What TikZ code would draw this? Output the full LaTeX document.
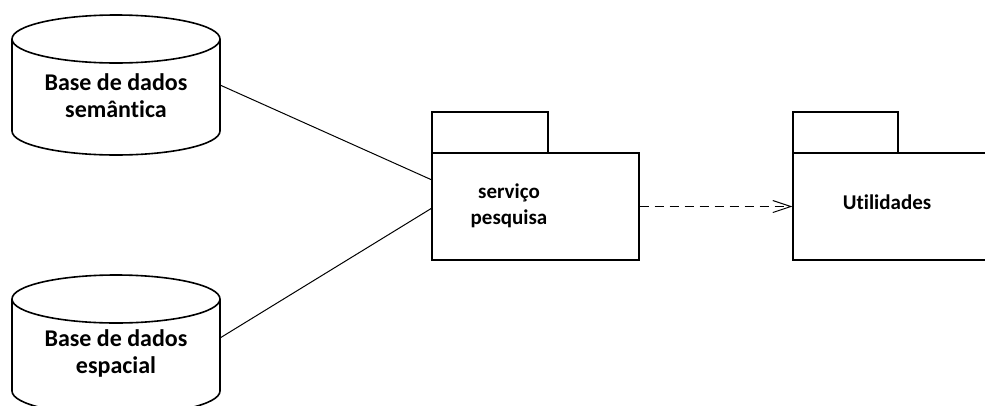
\documentclass[tikz,border=0pt]{standalone}
\usepackage{fontspec}
\setmainfont[Ligatures={NoCommon}]{Carlito}
\usetikzlibrary{arrows.meta}
\begin{document}
\begin{tikzpicture}[x=1pt,y=-1pt,
  cyl/.style={line width=1.6pt},
  pkg/.style={draw,line width=1.2pt,rectangle,inner sep=0pt},
  conn/.style={line width=1pt},
  lbl/.style={font=\bfseries\fontsize{24}{27}\selectfont,align=center},
  plbl/.style={font=\bfseries\fontsize{21}{26}\selectfont,align=center}]
\useasboundingbox (0,0) rectangle (985,405);
\clip (0,0) rectangle (985,405);
% cylinder 1
\draw[cyl] (116,39) ellipse [x radius=104, y radius=24];
\draw[cyl] (12,39) -- (12,131) arc[start angle=180, end angle=0, x radius=104, y radius=24] -- (220,39);
\node[lbl] (db1) at (116,96) {Base de dados\\semântica};
% cylinder 2
\draw[cyl] (116,299) ellipse [x radius=104, y radius=24];
\draw[cyl] (12,299) -- (12,391) arc[start angle=180, end angle=0, x radius=104, y radius=24] -- (220,299);
\node[lbl] (db2) at (116,353) {Base de dados\\espacial};
\coordinate (db1e) at (220,85);
\coordinate (db2e) at (220,338);
% package 1
\draw[line width=1.2pt] (432,153) -- (432,112) -- (548,112) -- (548,153);
\node[pkg, minimum width=207pt, minimum height=107pt] (p1) at (535.5,206.5) {};
\node[plbl] (t1) at (509,206) {serviço\\pesquisa};
% package 2
\draw[line width=1.2pt] (793,153) -- (793,112) -- (898,112) -- (898,153);
\node[pkg, minimum width=300pt, minimum height=107pt] (p2) at (943,206.5) {};
\node[plbl] (t2) at (887,202) {Utilidades};
\coordinate (p1a) at (432,180);
\coordinate (p1b) at (432,208);
% connectors
\draw[conn] (db1e) -- (p1a);
\draw[conn] (db2e) -- (p1b);
\draw[conn, dash pattern=on 9pt off 6pt, -{Straight Barb[length=18pt,width=12pt]}] (p1.east) -- (p2.west);
\end{tikzpicture}
\end{document}
